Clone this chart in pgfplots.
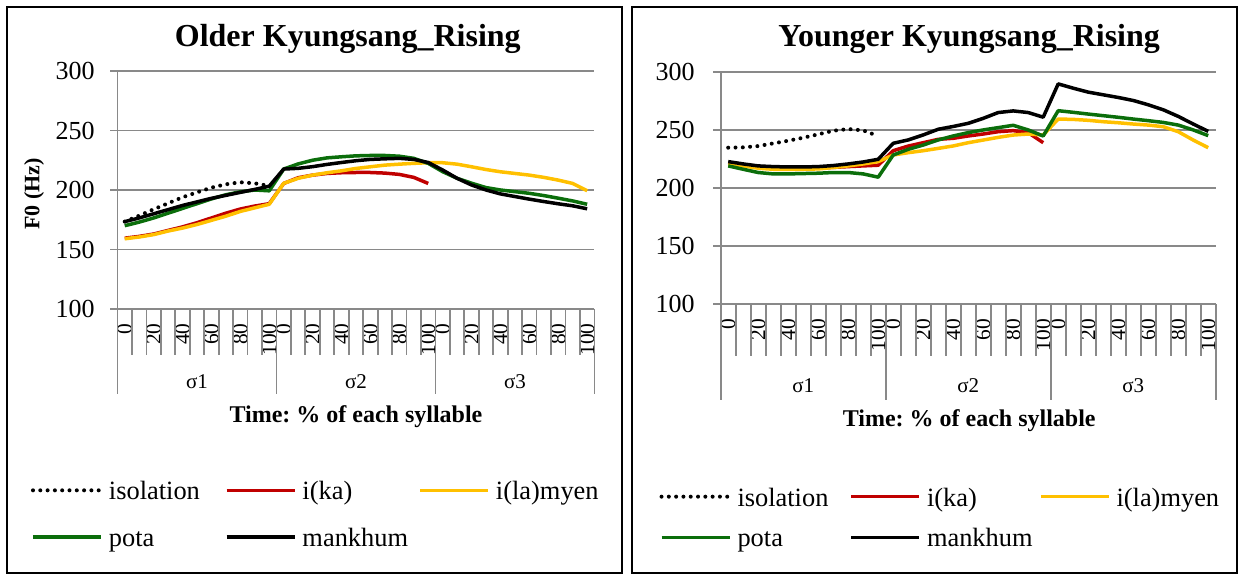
\documentclass[border=0pt]{standalone}
\usepackage{fontspec}
\setmainfont{Liberation Serif}
\usepackage{pgfplots}
\pgfplotsset{compat=1.18}
\frenchspacing

\definecolor{cred}{HTML}{C00000}
\definecolor{cyel}{HTML}{FFC000}
\definecolor{cgrn}{HTML}{0B6E0B}
\definecolor{cgrid}{HTML}{898989}

\pgfplotsset{
  kstyle/.style={
    scale only axis,
    anchor=south west,
    xmin=-0.5, xmax=32.5,
    ymin=100, ymax=300,
    ytick={100,150,...,300},
    ymajorgrids,
    grid style={cgrid, line width=0.9pt},
    axis lines=left,
    axis line style={cgrid, line width=0.9pt, -},
    tick align=outside,
    major tick length=3.75pt,
    y tick style={cgrid, line width=0.9pt},
    x tick style={draw=none},
    xtick={0,2,4,6,8,10,11,13,15,17,19,21,22,24,26,28,30,32},
    xticklabels={0,20,40,60,80,100,0,20,40,60,80,100,0,20,40,60,80,100},
    xticklabel style={rotate=90, anchor=east, inner sep=0pt, font=\fontsize{10.7}{12}\selectfont},
    yticklabel style={inner sep=0pt, font=\fontsize{13}{15}\selectfont},
    /pgf/number format/assume math mode=true,
    clip=false,
    title style={font=\fontsize{16}{19}\selectfont\bfseries, anchor=base},
    xlabel={Time:\ \% of each syllable},
    xlabel style={font=\fontsize{12}{14}\selectfont\bfseries, anchor=base},
    every axis plot/.append style={mark=none, line width=1.75pt, line join=round},
    legend columns=3,
    legend image code/.code={\draw[##1] (0pt,0pt) -- (34pt,0pt);},
    legend style={draw=none, fill=none, inner sep=0pt, outer sep=0pt, anchor=north west,
      nodes={inner sep=0pt}, font=\fontsize{13.2}{15.5}\selectfont,
      /tikz/every odd column/.append style={column sep=3pt}},
  },
  isol/.style={black, line width=2pt, dash pattern=on 0pt off 3.65pt, line cap=round},
}

\newcommand{\lent}[1]{\makebox[53pt][l]{#1\strut}}

\begin{document}
\begin{tikzpicture}
\useasboundingbox (0,0) rectangle (620.5pt,288pt);
\draw[line width=1.25pt] (3.5pt,1.5pt) rectangle (311pt,284.5pt);
\draw[line width=1.25pt] (316pt,1.5pt) rectangle (618.5pt,284.5pt);

% ---------------- Older ----------------
\begin{axis}[kstyle,
  at={(58.75pt,133.5pt)}, width=238.45pt, height=119pt,
  title={Older Kyungsang\_Rising},
  title style={at={(axis description cs:0.483,1)}, yshift=6pt},
  ylabel={F0 (Hz)},
  ylabel style={font=\fontsize{11}{13}\selectfont\bfseries, at={(axis description cs:-0.175,0.483)}, anchor=center},
  yticklabel shift=7.5pt, xticklabel shift=3.25pt,
  xlabel style={at={(axis description cs:0.5,-0.475)}},
  legend style={at={(axis description cs:-0.1814,-0.71)}, row sep=11pt,
    /tikz/every even column/.append style={column sep=5pt}},
]
\addplot[isol] coordinates {
 (0,173.4)(1,178.4)(2,183.8)(3,188.8)(4,193.9)(5,198.0)(6,202.0)(7,204.8)(8,206.5)(9,205.6)(10,203.4)};
\addlegendentry{\lent{isolation}}
\addplot[cred] coordinates {
 (0,159.5)(1,161)(2,163)(3,166)(4,169)(5,172.5)(6,176.5)(7,180.5)(8,184)(9,186.5)(10,188.5)
 (11,205.5)(12,210.3)(13,212.5)(14,213.9)(15,214.5)(16,214.7)(17,214.7)(18,214.2)(19,213.1)(20,210.6)(21,205.5)};
\addlegendentry{\lent{i(ka)}}
\addplot[cyel] coordinates {
 (0,159)(1,160.5)(2,162.5)(3,165.5)(4,168)(5,171)(6,174.5)(7,178)(8,182)(9,185)(10,188)
 (11,205.6)(12,209.8)(13,212.5)(14,214.5)(15,216.1)(16,218.1)(17,219.5)(18,220.9)(19,221.7)(20,222.4)(21,222.9)
 (22,222.9)(23,221.7)(24,219.5)(25,217.2)(26,215.3)(27,213.9)(28,212.5)(29,210.6)(30,208.3)(31,205.5)(32,199.4)};
\addlegendentry{\lent{i(la)myen}}
\addplot[cgrn] coordinates {
 (0,170)(1,173)(2,176.5)(3,180.5)(4,184.5)(5,188.5)(6,192.5)(7,196)(8,198.5)(9,200)(10,199.3)
 (11,217.6)(12,221.9)(13,225)(14,227)(15,227.9)(16,228.7)(17,229)(18,229)(19,228.4)(20,226.6)(21,222.4)
 (22,215.4)(23,209.8)(24,205.7)(25,202)(26,200)(27,198.6)(28,197.2)(29,195.3)(30,193.1)(31,190.8)(32,188)};
\addlegendentry{\lent{pota}}
\addplot[black] coordinates {
 (0,173.4)(1,176.5)(2,180)(3,183.5)(4,187)(5,190)(6,193)(7,195.5)(8,198)(9,200.5)(10,203.2)
 (11,217.6)(12,218.2)(13,219.6)(14,221.5)(15,223.1)(16,224.6)(17,225.7)(18,226.2)(19,226.6)(20,225.7)(21,223.1)
 (22,216.8)(23,209.8)(24,204.2)(25,200)(26,196.7)(27,194.5)(28,192.3)(29,190.3)(30,188.4)(31,186.7)(32,184.2)};
\addlegendentry{\lent{mankhum}}
\pgfplotsinvokeforeach{-0.5,0.5,...,32.5}{\draw[cgrid, line width=0.9pt] (axis cs:#1,100) -- ++(0pt,-23pt);}
\pgfplotsinvokeforeach{-0.5,10.5,21.5,32.5}{\draw[cgrid, line width=0.9pt] (axis cs:#1,100) -- ++(0pt,-42.5pt);}
\node[anchor=base, yshift=-40pt, font=\fontsize{10.5}{12}\selectfont] at (axis cs:5,100) {σ1};
\node[anchor=base, yshift=-40pt, font=\fontsize{10.5}{12}\selectfont] at (axis cs:16,100) {σ2};
\node[anchor=base, yshift=-40pt, font=\fontsize{10.5}{12}\selectfont] at (axis cs:27,100) {σ3};
\end{axis}

% ---------------- Younger ----------------
\begin{axis}[kstyle,
  at={(360.35pt,135.85pt)}, width=247.5pt, height=116pt,
  title={Younger Kyungsang\_Rising},
  title style={at={(axis description cs:0.502,1)}, yshift=6.65pt},
  yticklabel shift=9.1pt, xticklabel shift=3.55pt,
  xlabel style={at={(axis description cs:0.502,-0.525)}},
  legend style={at={(axis description cs:-0.1236,-0.776)}, row sep=8pt,
    /tikz/every even column/.append style={column sep=3pt}},
]
\addplot[isol] coordinates {
 (0,235.0)(1,235.3)(2,236.4)(3,238.7)(4,241.0)(5,243.6)(6,246.5)(7,249.6)(8,251.1)(9,249.9)(10,245.0)};
\addlegendentry{\lent{isolation}}
\addplot[cred] coordinates {
 (0,221.6)(1,220)(2,218.1)(3,217.5)(4,217.3)(5,217.3)(6,217.6)(7,218)(8,218.7)(9,219.3)(10,219.9)
 (11,232.4)(12,236.4)(13,239.3)(14,242.2)(15,243.1)(16,245.1)(17,246.8)(18,248.8)(19,249.7)(20,248)(21,239.3)};
\addlegendentry{\lent{i(ka)}}
\addplot[cyel] coordinates {
 (0,221)(1,219.3)(2,217.3)(3,216.4)(4,216.4)(5,216.4)(6,216.7)(7,217.9)(8,219.3)(9,221)(10,223)
 (11,228.7)(12,230.7)(13,232.4)(14,234.4)(15,236.5)(16,239.3)(17,241.6)(18,243.9)(19,245.9)(20,246.8)(21,245.9)
 (22,259.7)(23,259.4)(24,258.6)(25,257.4)(26,256.5)(27,255.4)(28,254.5)(29,253.1)(30,248.8)(31,241.6)(32,235)};
\addlegendentry{\lent{i(la)myen}}
\addplot[cgrn] coordinates {
 (0,219.3)(1,216.4)(2,213.6)(3,212.4)(4,212.4)(5,212.7)(6,213)(7,213.6)(8,213.6)(9,212.4)(10,209.6)
 (11,228.7)(12,233.6)(13,237.3)(14,241.7)(15,245.1)(16,248)(17,250.3)(18,252.3)(19,254.3)(20,250.3)(21,245.1)
 (22,266.9)(23,265.5)(24,264)(25,262.6)(26,261.2)(27,259.7)(28,258.3)(29,256.8)(30,254.5)(31,250.3)(32,245.4)};
\addlegendentry{\lent{pota}}
\addplot[black] coordinates {
 (0,223.0)(1,221)(2,219.3)(3,218.7)(4,218.4)(5,218.4)(6,218.7)(7,219.6)(8,221)(9,222.7)(10,225)
 (11,238.8)(12,241.7)(13,246)(14,250.9)(15,253.3)(16,256)(17,260.3)(18,265.3)(19,266.7)(20,265.3)(21,261.3)
 (22,290)(23,286.3)(24,282.9)(25,280.6)(26,278.3)(27,275.7)(28,272)(29,267.7)(30,262)(31,255.4)(32,249.1)};
\addlegendentry{\lent{mankhum}}
\pgfplotsinvokeforeach{-0.5,0.5,...,32.5}{\draw[cgrid, line width=0.9pt] (axis cs:#1,100) -- ++(0pt,-26pt);}
\pgfplotsinvokeforeach{-0.5,10.5,21.5,32.5}{\draw[cgrid, line width=0.9pt] (axis cs:#1,100) -- ++(0pt,-48pt);}
\node[anchor=base, yshift=-44.35pt, font=\fontsize{10.5}{12}\selectfont] at (axis cs:5,100) {σ1};
\node[anchor=base, yshift=-44.35pt, font=\fontsize{10.5}{12}\selectfont] at (axis cs:16,100) {σ2};
\node[anchor=base, yshift=-44.35pt, font=\fontsize{10.5}{12}\selectfont] at (axis cs:27,100) {σ3};
\end{axis}
\end{tikzpicture}
\end{document}
